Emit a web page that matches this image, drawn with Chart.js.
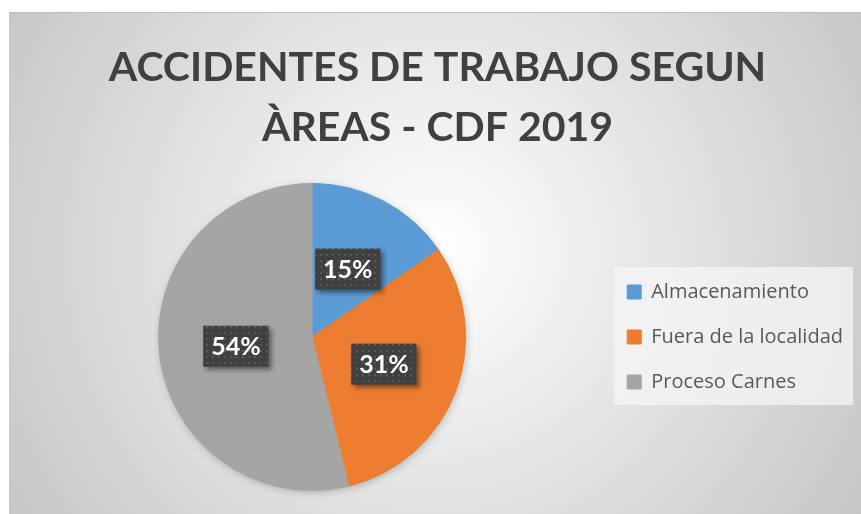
<!DOCTYPE html>
<html>
<head>
<meta charset="utf-8">
<script src="https://cdn.jsdelivr.net/npm/chart.js@4.4.1/dist/chart.umd.min.js"></script>
<style>
  body { margin: 0; background: #fff; }
  canvas { display: block; }
</style>
</head>
<body>
<canvas id="canvas1" width="861" height="514"></canvas>
<script>
// data
var areas = ["Almacenamiento", "Fuera de la localidad", "Proceso Carnes"];
var accidentes = [2, 4, 7];
var colores = ["#5b9bd5", "#ed7d31", "#a5a5a5"];
var titulo = ["ACCIDENTES DE TRABAJO SEGUN", "ÀREAS - CDF 2019"];

// dotted fill for the data label boxes
var patCanvas = document.createElement("canvas");
patCanvas.width = 6; patCanvas.height = 6;
var pc = patCanvas.getContext("2d");
pc.fillStyle = "#404040";
pc.fillRect(0, 0, 6, 6);
pc.fillStyle = "#585858";
pc.fillRect(2, 2, 2, 2);

var fondo = {
    id: "fondo",
    beforeDraw: function(chart) {
        var ctx = chart.ctx;
        ctx.save();
        ctx.fillStyle = "#ffffff";
        ctx.fillRect(0, 0, chart.width, chart.height);
        var g = ctx.createRadialGradient(435, 250, 0, 435, 250, 520);
        g.addColorStop(0, "#ffffff");
        g.addColorStop(1, "#c4c4c4");
        ctx.fillStyle = g;
        ctx.fillRect(9, 12, chart.width - 9, chart.height - 12);
        ctx.fillStyle = "#bdbdbd";
        ctx.fillRect(9, 12, chart.width - 9, 1);
        // legend background
        var lg = chart.legend;
        if (lg && lg.legendHitBoxes && lg.legendHitBoxes.length) {
            var hb = lg.legendHitBoxes;
            var bx = hb[0].left - 13;
            var by = hb[0].top - 15;
            var last = hb[hb.length - 1];
            ctx.fillStyle = "rgba(246,246,246,0.75)";
            ctx.fillRect(bx, by, lg.right - bx, last.top + last.height + 13 - by);
        }
        ctx.restore();
    },
    beforeDatasetsDraw: function(chart) {
        var arc = chart.getDatasetMeta(0).data[0];
        if (!arc) return;
        var ctx = chart.ctx;
        ctx.save();
        ctx.shadowColor = "rgba(0,0,0,0.28)";
        ctx.shadowBlur = 9;
        ctx.shadowOffsetX = 1;
        ctx.shadowOffsetY = 2;
        ctx.fillStyle = "#a5a5a5";
        ctx.beginPath();
        ctx.arc(arc.x, arc.y, arc.outerRadius - 1, 0, Math.PI * 2);
        ctx.fill();
        ctx.restore();
    },
    afterDatasetsDraw: function(chart) {
        var ctx = chart.ctx;
        var data = chart.data.datasets[0].data;
        var total = data.reduce(function(a, b) { return a + b; }, 0);
        var pattern = ctx.createPattern(patCanvas, "repeat");
        ctx.save();
        ctx.font = "bold 25px Lato";
        ctx.textAlign = "center";
        ctx.textBaseline = "middle";
        chart.getDatasetMeta(0).data.forEach(function(el, i) {
            var p = el.tooltipPosition();
            var txt = Math.round(data[i] / total * 100) + "%";
            var w = ctx.measureText(txt).width + 16;
            var h = 41;
            ctx.save();
            ctx.shadowColor = "rgba(0,0,0,0.45)";
            ctx.shadowBlur = 5;
            ctx.shadowOffsetX = 3;
            ctx.shadowOffsetY = 3;
            ctx.fillStyle = pattern;
            ctx.fillRect(p.x - w / 2, p.y - h / 2, w, h);
            ctx.restore();
            ctx.fillStyle = "#ffffff";
            ctx.fillText(txt, p.x, p.y + 1);
        });
        ctx.restore();
    }
};

new Chart(document.getElementById("canvas1"), {
    type: "pie",
    data: {
        labels: areas,
        datasets: [{
            data: accidentes,
            backgroundColor: colores,
            borderColor: colores,
            borderWidth: 1
        }]
    },
    options: {
        responsive: false,
        animation: false,
        layout: { padding: { top: 12, left: 22, right: 8, bottom: 23 } },
        plugins: {
            title: {
                display: true,
                text: titulo,
                color: "#404040",
                font: { family: "Lato", size: 41, weight: "bold", lineHeight: 60 / 41 },
                padding: { top: 26, bottom: 25 }
            },
            legend: {
                position: "right",
                fullSize: false,
                labels: {
                    color: "#595959",
                    font: { family: "Open Sans", size: 20 },
                    boxWidth: 14,
                    boxHeight: 14,
                    padding: 25
                }
            },
            tooltip: { enabled: false }
        }
    },
    plugins: [fondo]
});
</script>
</body>
</html>
